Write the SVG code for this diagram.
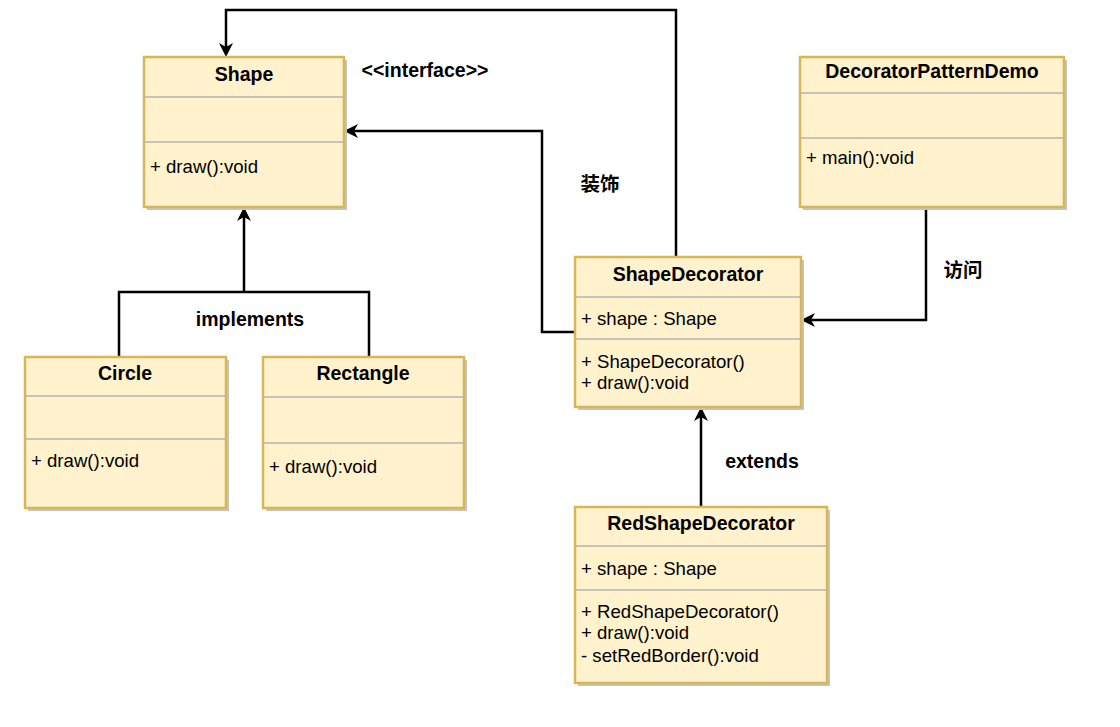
<svg xmlns="http://www.w3.org/2000/svg" width="1120" height="727" viewBox="0 0 1120 727">
<defs>
<style>
.box{fill:#fff2cc;stroke:#d6b656;stroke-width:2.5}
.shadow{fill:#c4c4c4}
.div{stroke:#b3b3b3;stroke-width:1.5;fill:none}
.title{font-family:"Liberation Sans",Arial,sans-serif;font-weight:bold;font-size:19.5px;fill:#000;text-anchor:middle}
.body{font-family:"Liberation Sans",Arial,sans-serif;font-size:18.6px;fill:#000}
.lbl{font-family:"Liberation Sans",Arial,sans-serif;font-weight:bold;font-size:19.5px;fill:#000;text-anchor:middle}
.cjk{font-family:"Liberation Sans","Noto Sans CJK SC",sans-serif;font-weight:bold;font-size:19.5px;fill:#000;text-anchor:middle}
.edge{fill:none;stroke:#000;stroke-width:2.5}
</style>
<marker id="arr" markerUnits="userSpaceOnUse" markerWidth="16" markerHeight="16" viewBox="0 0 16 16" refX="9" refY="8" orient="auto">
<path d="M1,1 L15,8 L1,15 L5,8 z" fill="#000"/>
</marker>
</defs>
<rect width="1120" height="727" fill="#fff"/>

<g id="connectors">
<path class="edge" d="M676,257 V10 H226 V51" marker-end="url(#arr)"/>
<path class="edge" d="M575,332 H542 V131 H350" marker-end="url(#arr)"/>
<path class="edge" d="M926,207 V320 H807" marker-end="url(#arr)"/>
<path class="edge" d="M119,357 V292 H369 V357"/>
<path class="edge" d="M244,292 V213" marker-end="url(#arr)"/>
<path class="edge" d="M701,507 V413" marker-end="url(#arr)"/>
</g>

<g id="labels">
<text class="lbl" x="425" y="77">&lt;&lt;interface&gt;&gt;</text>
<text class="lbl" x="250" y="326">implements</text>
<text class="lbl" x="762" y="468">extends</text>
<text class="cjk" x="600" y="191">装饰</text>
<text class="cjk" x="963" y="277">访问</text>
</g>

<g id="Shape">
<rect class="shadow" x="147" y="60" width="200" height="150"/>
<rect class="box" x="144" y="57" width="200" height="150"/>
<line class="div" x1="145" y1="97" x2="343" y2="97"/>
<line class="div" x1="145" y1="142" x2="343" y2="142"/>
<text class="title" x="244" y="81">Shape</text>
<text class="body" x="150" y="173">+ draw():void</text>
</g>

<g id="DecoratorPatternDemo">
<rect class="shadow" x="803" y="60" width="264" height="150"/>
<rect class="box" x="800" y="57" width="264" height="150"/>
<line class="div" x1="801" y1="93" x2="1063" y2="93"/>
<line class="div" x1="801" y1="138" x2="1063" y2="138"/>
<text class="title" x="932" y="78">DecoratorPatternDemo</text>
<text class="body" x="806" y="164">+ main():void</text>
</g>

<g id="ShapeDecorator">
<rect class="shadow" x="578" y="260" width="226" height="150"/>
<rect class="box" x="575" y="257" width="226" height="150"/>
<line class="div" x1="576" y1="297" x2="800" y2="297"/>
<line class="div" x1="576" y1="339" x2="800" y2="339"/>
<text class="title" x="688" y="281">ShapeDecorator</text>
<text class="body" x="581" y="325">+ shape : Shape</text>
<text class="body" x="581" y="368">+ ShapeDecorator()</text>
<text class="body" x="581" y="389">+ draw():void</text>
</g>

<g id="RedShapeDecorator">
<rect class="shadow" x="578" y="510" width="252" height="176"/>
<rect class="box" x="575" y="507" width="252" height="176"/>
<line class="div" x1="576" y1="546" x2="826" y2="546"/>
<line class="div" x1="576" y1="590" x2="826" y2="590"/>
<text class="title" x="701" y="530">RedShapeDecorator</text>
<text class="body" x="581" y="575">+ shape : Shape</text>
<text class="body" x="581" y="618">+ RedShapeDecorator()</text>
<text class="body" x="581" y="639">+ draw():void</text>
<text class="body" x="581" y="662">- setRedBorder():void</text>
</g>

<g id="Circle">
<rect class="shadow" x="28" y="360" width="201" height="151"/>
<rect class="box" x="25" y="357" width="201" height="151"/>
<line class="div" x1="26" y1="396" x2="225" y2="396"/>
<line class="div" x1="26" y1="439" x2="225" y2="439"/>
<text class="title" x="125" y="380">Circle</text>
<text class="body" x="31" y="467">+ draw():void</text>
</g>

<g id="Rectangle">
<rect class="shadow" x="266" y="360" width="201" height="151"/>
<rect class="box" x="263" y="357" width="201" height="151"/>
<line class="div" x1="264" y1="397" x2="463" y2="397"/>
<line class="div" x1="264" y1="443" x2="463" y2="443"/>
<text class="title" x="363" y="380">Rectangle</text>
<text class="body" x="269" y="473">+ draw():void</text>
</g>
</svg>
